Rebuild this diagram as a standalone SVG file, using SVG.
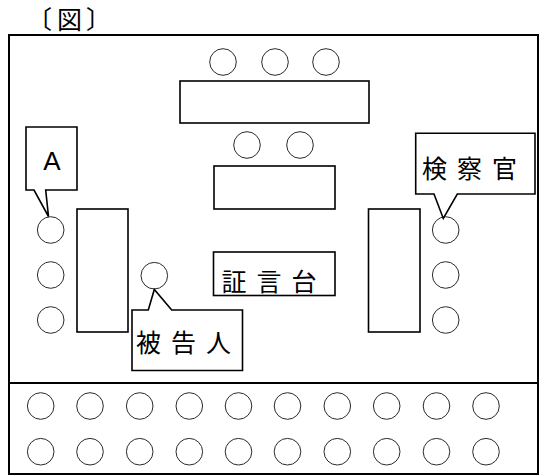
<svg xmlns="http://www.w3.org/2000/svg" width="544" height="475" viewBox="0 0 544 475">
<style>
.frame{fill:none;stroke:#000;stroke-width:2}
.box{fill:#fff;stroke:#000;stroke-width:1.6}
.seat{fill:#fff;stroke:#2a2a2a;stroke-width:1}
.jp{font-family:"Noto Sans CJK JP","Noto Sans CJK SC",sans-serif;font-size:25px;fill:#000}
.lat{font-family:"Liberation Sans",Arial,sans-serif;font-size:26px;fill:#000}
</style>
<rect width="544" height="475" fill="#fff"/>
<text id="title" class="jp" x="27 57 86" y="29" font-size="23">〔図〕</text>
<g id="courtroom">
<rect class="frame" x="9" y="35" width="529" height="439"/>
<line class="frame" x1="9" y1="383" x2="538" y2="383"/>
</g>
<g id="judges">
<circle class="seat" cx="223" cy="62" r="13.3"/>
<circle class="seat" cx="275" cy="62" r="13.3"/>
<circle class="seat" cx="326" cy="62" r="13.3"/>
<rect class="box" x="180" y="81" width="189" height="42"/>
</g>
<g id="clerks">
<circle class="seat" cx="247" cy="145" r="13.3"/>
<circle class="seat" cx="300" cy="145" r="13.3"/>
<rect class="box" x="214" y="166" width="121" height="43"/>
</g>
<g id="defense">
<rect class="box" x="77" y="209" width="51" height="123"/>
<circle class="seat" cx="50.7" cy="230" r="13.3"/>
<circle class="seat" cx="50.7" cy="275" r="13.3"/>
<circle class="seat" cx="50.7" cy="320" r="13.3"/>
</g>
<g id="label-A">
<path class="box" d="M26,127 H77 V190 H45.7 L48.5,216.5 L34,190 H26 Z"/>
<text class="lat" x="52" y="170" text-anchor="middle">A</text>
</g>
<g id="defendant">
<circle class="seat" cx="154.3" cy="275.7" r="13.3"/>
<path class="box" d="M132,310 H148.3 L154.3,289.5 L171.7,310 H242.5 V370.5 H132 Z"/>
<text class="jp" x="136 171 206" y="352">被告人</text>
</g>
<g id="witness-stand">
<rect class="box" x="213.5" y="252" width="121.5" height="43.5"/>
<text class="jp" x="221.5 256.5 291.5" y="291">証言台</text>
</g>
<g id="prosecution">
<rect class="box" x="368.5" y="209" width="51.5" height="123"/>
<circle class="seat" cx="445.7" cy="230" r="13.3"/>
<circle class="seat" cx="445.7" cy="275" r="13.3"/>
<circle class="seat" cx="445.7" cy="320" r="13.3"/>
</g>
<g id="prosecutor">
<path class="box" d="M415.7,133.3 H535 V194 H457.3 L443.3,218.5 L434,194 H415.7 Z"/>
<text class="jp" x="422 457 492" y="178">検察官</text>
</g>
<g id="gallery">
<circle class="seat" cx="40.7" cy="406" r="13.3"/>
<circle class="seat" cx="90" cy="406" r="13.3"/>
<circle class="seat" cx="139.7" cy="406" r="13.3"/>
<circle class="seat" cx="189.3" cy="406" r="13.3"/>
<circle class="seat" cx="238.5" cy="406" r="13.3"/>
<circle class="seat" cx="287.5" cy="406" r="13.3"/>
<circle class="seat" cx="337.3" cy="406" r="13.3"/>
<circle class="seat" cx="386.7" cy="406" r="13.3"/>
<circle class="seat" cx="436.5" cy="406" r="13.3"/>
<circle class="seat" cx="486" cy="406" r="13.3"/>
<circle class="seat" cx="40.7" cy="451.7" r="13.3"/>
<circle class="seat" cx="90" cy="451.7" r="13.3"/>
<circle class="seat" cx="139.7" cy="451.7" r="13.3"/>
<circle class="seat" cx="189.3" cy="451.7" r="13.3"/>
<circle class="seat" cx="238.5" cy="451.7" r="13.3"/>
<circle class="seat" cx="287.5" cy="451.7" r="13.3"/>
<circle class="seat" cx="337.3" cy="451.7" r="13.3"/>
<circle class="seat" cx="386.7" cy="451.7" r="13.3"/>
<circle class="seat" cx="436.5" cy="451.7" r="13.3"/>
<circle class="seat" cx="486" cy="451.7" r="13.3"/>
</g>
</svg>
